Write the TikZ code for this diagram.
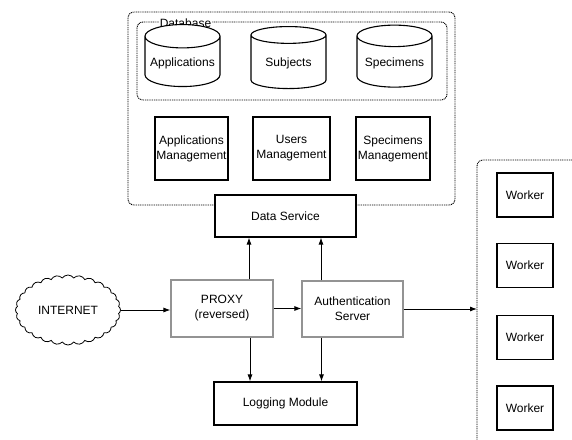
\documentclass[tikz,border=0pt]{standalone}
\usepackage{fontspec}
\setmainfont{Liberation Sans}
\usetikzlibrary{arrows,arrows.meta,positioning,shapes,shapes.geometric,shapes.symbols}

\begin{document}
\begin{tikzpicture}[x=1pt,y=-1pt,font=\fontsize{12}{15}\selectfont,
    box/.style={draw, fill=white, line width=1.1pt, align=center, inner sep=1pt},
    db/.style={cylinder, shape border rotate=90, draw, fill=white, line width=1.1pt,
      aspect=0.35, minimum width=75pt, minimum height=62pt, inner sep=1pt},
    group/.style={draw, dash pattern=on 1pt off 0.8pt, rounded corners=6pt, line width=0.9pt},
    link/.style={draw, line width=0.9pt, -{Latex[length=7pt,width=5pt]}}]
        \useasboundingbox (0,0) rectangle (572,439);
        %containers
        \draw[group] (128,12) rectangle (455,205);
        \draw[group] (137,22) rectangle (447,100);
        \node[fill=white, inner sep=1pt] (dblabel) at (185.5,23) {Database};
        \draw[group] (477,445) -- (477,160) -- (580,160);
        \coordinate (workin) at (477,309);
        %nodes
        \node[db] (apps) at (182.5,63) {Applications};
        \node[db] (subj) at (288.5,63) {Subjects};
        \node[db] (spec) at (394.5,63) {Specimens};
        \node[box, minimum width=73pt, minimum height=63pt] (appsman) at (191.5,148.5) {Applications\\Management};
        \node[box, minimum width=77pt, minimum height=63pt] (usersman) at (291.5,148.5) {Users\\Management};
        \node[box, minimum width=74pt, minimum height=63pt] (specman) at (393,148.5) {Specimens\\Management};
        \node[box, minimum width=141pt, minimum height=42pt] (data) at (285.5,216) {Data Service};
        \node[box, draw=gray!85, minimum width=102pt, minimum height=57pt] (proxy) at (222,308.5) {PROXY\\(reversed)};
        \node[box, draw=gray!85, minimum width=101pt, minimum height=56pt] (auth) at (352.5,309) {Authentication\\Server};
        \node[box, minimum width=143pt, minimum height=43pt] (logging) at (285.5,403.5) {Logging Module};
        \node[cloud, draw, line width=0.8pt, cloud puffs=28, cloud puff arc=110, aspect=1.5, minimum width=105pt, minimum height=70pt] (internet) at (68,310) {INTERNET};
        \foreach \y [count=\i] in {195,265.5,337.5,408}
          \node[box, minimum width=56pt, minimum height=44pt] (worker\i) at (525,\y) {Worker};
        %edges
        \path [link] (internet) -- (internet.east -| proxy.west);
        \path [link] (proxy.east) -- (proxy.east -| auth.west);
        \path [link] (auth.east |- workin) -- (workin);
        \path [link] ([xshift=27pt]proxy.north) -- ([xshift=27pt]proxy.north |- data.south);
        \path [link] ([xshift=-31.5pt]auth.north) -- ([xshift=-31.5pt]auth.north |- data.south);
        \path [link] ([xshift=28pt]proxy.south) -- ([xshift=28pt]proxy.south |- logging.north);
        \path [link] ([xshift=-31pt]auth.south) -- ([xshift=-31pt]auth.south |- logging.north);
      \end{tikzpicture}
\end{document}
